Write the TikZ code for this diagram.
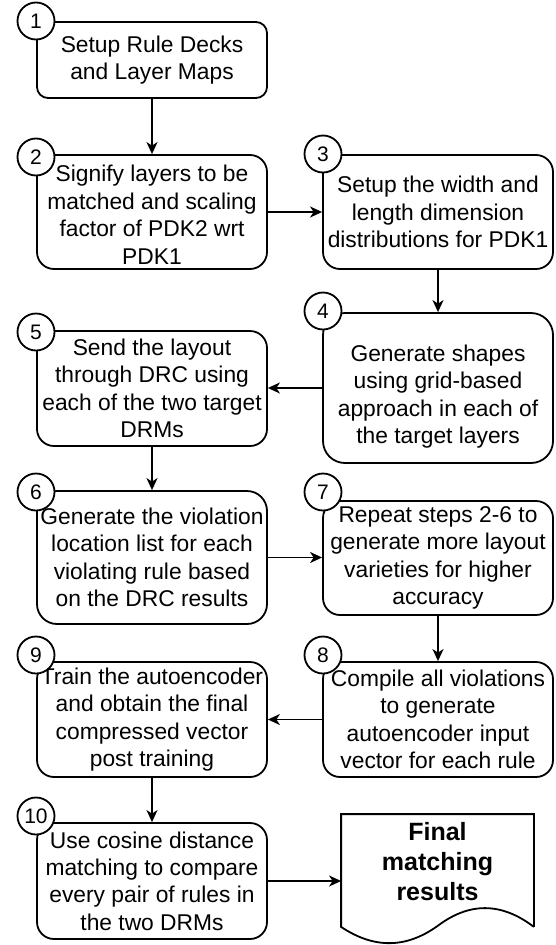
\documentclass[tikz,border=0pt]{standalone}
\usepackage{fontspec}
\setmainfont{Liberation Sans}
\usetikzlibrary{arrows.meta}
\begin{document}
\begin{tikzpicture}[x=1pt,y=-1pt,
  line width=1.8pt,
  stepbox/.style={draw, rectangle, minimum width=230pt, inner sep=0pt, align=center, fill=white,
    rounded corners=17pt, font=\fontsize{22.8}{27.4}\selectfont},
  numcirc/.style={draw, circle, fill=white, minimum size=37pt, inner sep=0pt,
    font=\fontsize{21}{21}\selectfont},
  conn/.style={-{Stealth[length=12pt,width=11pt,inset=3.5pt]}},
  doctext/.style={align=center, inner sep=0pt, font=\fontsize{25}{30}\selectfont\bfseries}
]
\useasboundingbox (0,0) rectangle (556,945);

% step boxes
\node[stepbox, minimum height=76pt, rounded corners=11pt] (b1) at (152,60) {Setup Rule Decks\\and Layer Maps};
\node[stepbox, minimum height=114pt] (b2) at (152,212) {\rule{0pt}{22pt}Signify layers to be\\matched and scaling\\factor of PDK2 wrt\\PDK1};
\node[stepbox, minimum height=114pt] (b3) at (438,212) {Setup the width and\\length dimension\\distributions for PDK1};
\node[stepbox, minimum height=150pt, rounded corners=22pt] (b4) at (438,388) {\rule{0pt}{34pt}Generate shapes\\using grid-based\\approach in each of\\the target layers};
\node[stepbox, minimum height=115pt] (b5) at (152,388.5) {Send the layout\\through DRC using\\each of the two target\\DRMs};
\node[stepbox, minimum height=133pt, rounded corners=20pt] (b6) at (152,557.5) {Generate the violation\\location list for each\\violating rule based\\on the DRC results};
\node[stepbox, minimum height=114pt] (b7) at (438,558) {Repeat steps 2-6 to\\generate more layout\\varieties for higher\\accuracy};
\node[stepbox, minimum height=115pt] (b8) at (438,719.5) {Compile all violations\\to generate\\autoencoder input\\vector for each rule};
\node[stepbox, minimum height=115pt] (b9) at (152,719.5) {Train the autoencoder\\and obtain the final\\compressed vector\\post training};
\node[stepbox, minimum height=116pt] (b10) at (152,881) {Use cosine distance\\matching to compare\\every pair of rules in\\the two DRMs};

% document shape
\node[minimum width=191pt, minimum height=111pt, inner sep=0pt] (doc) at (437.5,870.5) {};
\draw[fill=white] (doc.south east) -- (doc.north east) -- (doc.north west) -- (doc.south west)
  .. controls (373.8,948.7) and (405.7,948.7) .. (437.5,926)
  .. controls (469.3,902) and (501.2,902) .. (doc.south east);
\node[doctext] (doctxt) at (437.5,862) {Final\\matching\\results};

% number circles
\node[numcirc] (c1) at (36,21) {1};
\node[numcirc] (c2) at (36,157) {2};
\node[numcirc] (c3) at (323,154) {3};
\node[numcirc] (c4) at (323,311) {4};
\node[numcirc] (c5) at (36,332) {5};
\node[numcirc] (c6) at (36,492) {6};
\node[numcirc] (c7) at (323,492) {7};
\node[numcirc] (c8) at (323,655) {8};
\node[numcirc] (c9) at (36,655) {9};
\node[numcirc] (c10) at (36,816) {10};

% connectors
\draw[conn] (b1.south) -- (b2.north);
\draw[conn] (b2.east) -- (b3.west);
\draw[conn] (b3.south) -- (b4.north);
\draw[conn] (b4.west) -- (b4.west -| b5.east);
\draw[conn] (b5.south) -- (b6.north);
\draw[conn] (b6.east) -- (b6.east -| b7.west);
\draw[conn] (b7.south) -- (b8.north);
\draw[conn] (b8.west) -- (b9.east);
\draw[conn] (b9.south) -- (b10.north);
\draw[conn] (b10.east) -- (b10.east -| doc.west);
\end{tikzpicture}
\end{document}
